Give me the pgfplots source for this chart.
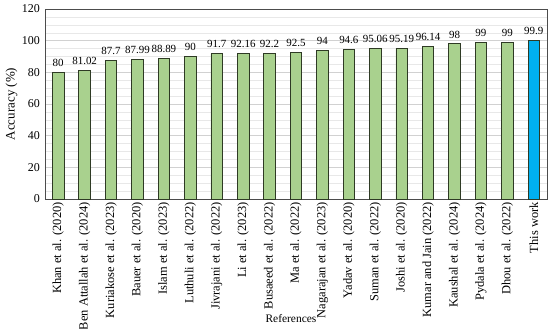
\documentclass[border=0pt]{standalone}
\usepackage{pgfplots}
\pgfplotsset{compat=1.18}
\usepackage{fontspec}
\setmainfont{Liberation Serif}
\definecolor{bargreen}{HTML}{A9D18E}
\definecolor{barblue}{HTML}{00B0F0}
\definecolor{baredge}{HTML}{2E3A24}
\begin{document}
\begin{tikzpicture}
\path[use as bounding box] (-45bp,-130bp) rectangle (505bp,199bp);
\begin{axis}[
  scale only axis,
  width=502bp, height=190bp,
  at={(0,0)}, anchor=south west,
  xmin=-0.5, xmax=18.5,
  ymin=0, ymax=120,
  ytick={0,20,...,120},
  minor y tick num=3,
  ymajorgrids, yminorgrids,
  major grid style={draw=black!18},
  minor grid style={draw=black!9},
  major tick length=0pt, minor tick length=0pt,
  xtick={0,...,18},
  xticklabels={Khan et al. (2020),Ben Attallah et al. (2024),Kuriakose et al. (2023),Bauer et al. (2020),Islam et al. (2023),Luthuli et al. (2022),Jivrajani et al. (2022),Li et al. (2023),Busaeed et al. (2022),Ma et al. (2022),Nagarajan et al. (2023),Yadav et al. (2020),Suman et al. (2022),Joshi et al. (2020),Kumar and Jain (2022),Kaushal et al. (2024),Pydala et al. (2024),Dhou et al. (2022),This work},
  xticklabel style={rotate=90, anchor=east, font=\fontsize{12.5}{13}\selectfont, inner sep=3pt},
  yticklabel style={font=\fontsize{12}{13}\selectfont, inner sep=2pt, xshift=-3pt},
  /pgf/number format/assume math mode=true,
  axis line style={draw=black!70, line width=0.8pt},
  ylabel={Accuracy (\%)},
  ylabel style={font=\fontsize{13}{14}\selectfont, yshift=-1pt},
  xlabel={References},
  xlabel style={font=\fontsize{11.5}{12}\selectfont, at={(axis description cs:0.49,0)}, anchor=base, yshift=-123bp},
  nodes near coords,
  every node near coord/.append style={font=\fontsize{11}{12}\selectfont, yshift=2pt},
  point meta=explicit symbolic,
  ybar, bar width=11.5bp,
  bar shift=0pt,
  clip=false,
]
\addplot[fill=bargreen, draw=baredge, line width=0.8pt] coordinates {
(0,80) [80]
(1,81.02) [81.02]
(2,87.7) [87.7]
(3,87.99) [87.99]
(4,88.89) [88.89]
(5,90) [90]
(6,91.7) [91.7]
(7,92.16) [92.16]
(8,92.2) [92.2]
(9,92.5) [92.5]
(10,94) [94]
(11,94.6) [94.6]
(12,95.06) [95.06]
(13,95.19) [95.19]
(14,96.14) [96.14]
(15,98) [98]
(16,99) [99]
(17,99) [99]
};
\addplot[fill=barblue, draw=baredge, line width=0.8pt] coordinates {
(18,99.9) [99.9]
};
\end{axis}
\end{tikzpicture}
\end{document}
